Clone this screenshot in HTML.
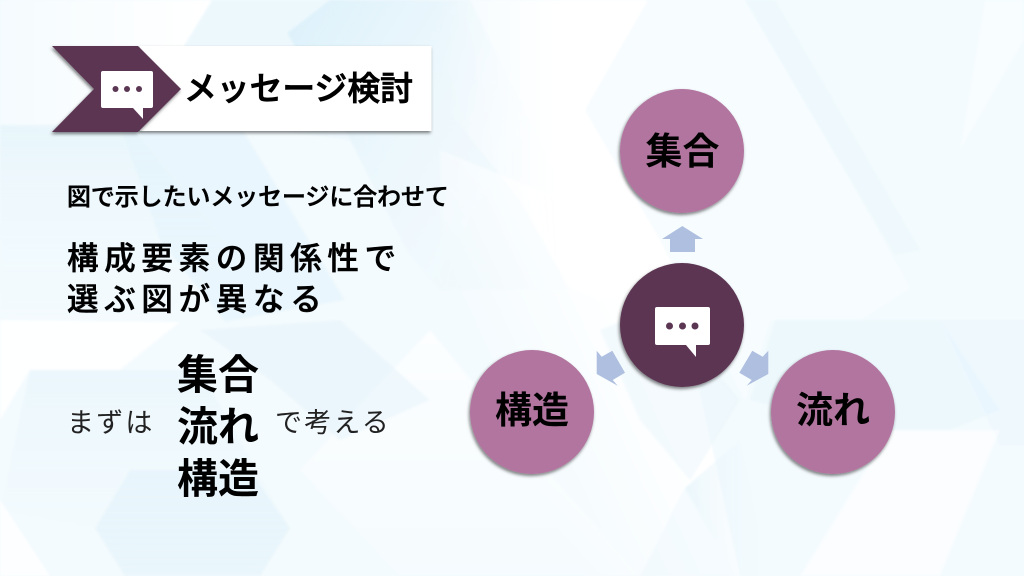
<!DOCTYPE html>
<html lang="ja"><head><meta charset="utf-8"><style>
html,body{margin:0;padding:0;width:1024px;height:576px;overflow:hidden;background:#fff}
svg{display:block}
text{font-family:"Liberation Sans","Noto Sans CJK JP",sans-serif;fill:#000}
.b{font-weight:700}
.m{font-weight:500;stroke:#000;stroke-width:.55px}
.h{font-weight:500;stroke:#000;stroke-width:.8px}
.r{font-weight:400;fill:#222}
</style></head><body>
<svg width="1024" height="576" viewBox="0 0 1024 576" xmlns="http://www.w3.org/2000/svg">
<defs>
<linearGradient id="fadeR" x1="0" y1="0" x2="1" y2="0"><stop offset="0" stop-color="#d9eff9" stop-opacity=".85"/><stop offset="1" stop-color="#f3fafe" stop-opacity=".1"/></linearGradient>
<linearGradient id="fadeD" x1="0" y1="0" x2="0" y2="1"><stop offset="0" stop-color="#d9eff9" stop-opacity=".8"/><stop offset="1" stop-color="#f3fafe" stop-opacity=".2"/></linearGradient>
<linearGradient id="whiteR" x1="0" y1="0" x2="1" y2="0"><stop offset="0" stop-color="#fff" stop-opacity=".1"/><stop offset="1" stop-color="#fff" stop-opacity="1"/></linearGradient>
<linearGradient id="midWhite" gradientUnits="userSpaceOnUse" x1="440" y1="0" x2="560" y2="0"><stop offset="0" stop-color="#fff" stop-opacity="0"/><stop offset="1" stop-color="#fff" stop-opacity="1"/></linearGradient>
<linearGradient id="diagWhite" gradientUnits="userSpaceOnUse" x1="450" y1="300" x2="600" y2="230"><stop offset="0" stop-color="#fff" stop-opacity="0"/><stop offset="1" stop-color="#fff" stop-opacity="1"/></linearGradient>
<linearGradient id="whiteU" x1="0" y1="1" x2="0" y2="0"><stop offset="0" stop-color="#fff" stop-opacity=".2"/><stop offset="1" stop-color="#fff" stop-opacity="1"/></linearGradient>
<linearGradient id="tintTop" gradientUnits="userSpaceOnUse" x1="290" y1="40" x2="500" y2="170"><stop offset="0" stop-color="#d9eff9" stop-opacity=".8"/><stop offset="1" stop-color="#eaf6fc" stop-opacity=".25"/></linearGradient>
<filter id="sh" x="-20%" y="-20%" width="140%" height="140%"><feDropShadow dx="-1" dy="2" stdDeviation="1.5" flood-color="#000" flood-opacity=".5"/></filter>
<filter id="soft" x="-5%" y="-5%" width="110%" height="110%"><feGaussianBlur stdDeviation="1"/></filter>
</defs>
<rect width="1024" height="576" fill="#f4fbfe"/>
<g filter="url(#soft)">
<polygon points="0,0 212,0 150,100 60,130 0,125" fill="url(#whiteR)"/>
<polygon points="212,0 330,0 287,33 350,140 240,125 150,105" fill="#e9f6fc" opacity=".7"/>
<polygon points="330,0 470,0 560,180 600,290 440,290 408,253 350,140 287,33" fill="url(#tintTop)"/>
<polygon points="0,125 130,125 230,250 160,322 0,322" fill="url(#fadeD)" opacity=".55"/>
<polygon points="120,125 240,125 345,300 225,322 160,240" fill="#e3f3fb" opacity=".6"/>
<!-- white band centre -->
<polygon points="440,0 648,0 585,110 660,240 680,280 600,300 570,288 520,200 440,100" fill="url(#midWhite)"/>
<polygon points="440,150 660,240 680,300 740,576 590,576 440,400" fill="url(#diagWhite)"/>
<polygon points="430,330 512,430 640,576 400,576 300,470" fill="url(#whiteU)" opacity=".7"/>
<!-- right -->
<polygon points="648,0 745,0 855,190 910,288 860,320 770,320 745,400 660,240 585,110" fill="#f7fcff"/>
<polygon points="745,0 775,0 920,250 895,255" fill="#e9f6fc" opacity=".6"/>
<polygon points="985,0 1024,0 1024,40 960,150" fill="#f9fdff" opacity=".7"/>
<polygon points="775,320 940,320 1000,410 950,430 860,430 750,400" fill="#e8f6fb" opacity=".55"/>
<polygon points="940,320 1024,320 1024,445 1000,445" fill="#e6f5fc" opacity=".45"/>
<polygon points="890,430 1000,430 940,576 800,576" fill="#fff" opacity=".6"/>
<polygon points="685,488 740,440 770,576 735,576" fill="url(#fadeR)" opacity=".6"/>
<polygon points="640,576 685,488 735,576" fill="#eef8fd" opacity=".5"/>
<polygon points="660,305 740,400 690,480 640,420 600,330" fill="#eaf6fc" opacity=".5"/>
<!-- bottom-left -->
<polygon points="0,320 180,322 120,370 30,370 0,420" fill="#fff" opacity=".85"/>
<polygon points="30,370 200,370 290,528 260,576 120,576 95,528 0,510" fill="url(#fadeD)" opacity=".4"/>
<polygon points="130,470 250,470 290,528 260,576 125,576 95,528" fill="#dff1fa" opacity=".5"/>
<polygon points="0,500 50,576 0,576" fill="#fff" opacity=".8"/>
<polygon points="200,330 340,320 430,400 340,440 270,380" fill="#dff1fa" opacity=".4"/>
</g>

<!-- header -->
<rect x="140" y="46" width="291.5" height="85" fill="#fff" filter="url(#sh)"/>
<polygon points="52,46 138,46 181,89 138,132 52,132 94,89" fill="#5b3653" filter="url(#sh)"/>
<path d="M103 71h48a2 2 0 0 1 2 2v33a2 2 0 0 1-2 2h-8v11l-10-11h-30a2 2 0 0 1-2-2v-33a2 2 0 0 1 2-2z" fill="#fff"/>
<g fill="#5b3653"><circle cx="115.500" cy="89" r="3"/><circle cx="127" cy="89" r="3"/><circle cx="139" cy="89" r="3"/></g>
<text class="h" x="184" y="100" font-size="32.8">メッセージ検討</text>

<!-- left text -->
<text class="m" x="67" y="205" font-size="23.9">図で示したいメッセージに合わせて</text>
<text class="m" x="67" y="269" font-size="31.5" letter-spacing="5.7">構成要素の関係性で</text>
<text class="m" x="67" y="310" font-size="31.5" letter-spacing="5.7">選ぶ図が異なる</text>
<text class="r" x="67" y="432" font-size="27" letter-spacing="2.2">まずは</text>
<text class="r" x="275" y="432" font-size="27" letter-spacing="2.200">で考える</text>
<text class="b" x="177" y="389" font-size="41">集合</text>
<text class="b" x="177" y="441" font-size="41">流れ</text>
<text class="b" x="177" y="493" font-size="41">構造</text>

<!-- arrows -->
<polygon points="682.300,226 703,239 695,239 695,252 670,252 670,239 662,239" fill="#aebfdf"/>
<polygon points="596.700,350.700 601.700,356.700 612.300,350.700 625,372.700 612.700,380 617.700,385.700 596.700,374" fill="#aebfdf"/>
<polygon points="768.300,350.700 762.700,356.700 752.300,350.700 739.300,372.700 751.700,380 746.700,385.700 768.300,374" fill="#aebfdf"/>

<!-- circles -->
<circle cx="682" cy="151" r="62" fill="#b1759f" filter="url(#sh)"/>
<circle cx="532" cy="412" r="62" fill="#b1759f" filter="url(#sh)"/>
<circle cx="833" cy="412" r="62" fill="#b1759f" filter="url(#sh)"/>
<circle cx="682" cy="325" r="62" fill="#5b3653" filter="url(#sh)"/>
<path d="M657 307h51a2 2 0 0 1 2 2v34a2 2 0 0 1-2 2h-12v12l-10-12h-29a2 2 0 0 1-2-2v-34a2 2 0 0 1 2-2z" fill="#fff"/>
<g fill="#5b3653"><circle cx="669.500" cy="326" r="3.500"/><circle cx="682.500" cy="326" r="3.500"/><circle cx="695" cy="326" r="3.500"/></g>
<text class="b" x="682.500" y="164" font-size="37" text-anchor="middle">集合</text>
<text class="b" x="532" y="423" font-size="37" text-anchor="middle">構造</text>
<text class="b" x="833" y="423" font-size="37" text-anchor="middle">流れ</text>
</svg>
</body></html>
